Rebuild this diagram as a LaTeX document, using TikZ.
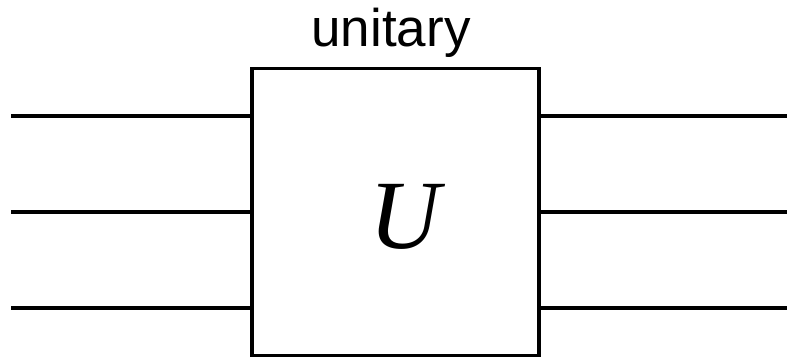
\documentclass[tikz,border=0pt]{standalone}
\usepackage{fontspec}
\setmainfont{Liberation Sans}
\newfontfamily\gatefont{Liberation Serif}
\usetikzlibrary{positioning, calc}

\begin{document}
\begin{tikzpicture}[x=1pt, y=-1pt, line width=3.6pt,
    gatebox/.style={draw, minimum width=287pt, minimum height=287pt, inner sep=0pt},
    wire/.style={line cap=butt}
]
    \useasboundingbox (0,0) rectangle (787,359);
    \node[gatebox] (gate) at (395.5,211.8) {};
    \node[font=\gatefont\itshape\fontsize{98}{98}\selectfont, inner sep=0pt] (sym) at (405,217) {U};
    \node[font=\fontsize{53}{53}\selectfont, anchor=base, inner sep=0pt] (lbl) at (391,46.7) {unitary};
    % input and output wires
    \foreach \i/\y in {1/116, 2/212, 3/308} {
        \coordinate (in\i) at (11,\y);
        \coordinate (out\i) at (787,\y);
        \draw[wire] (in\i) -- (gate.west |- in\i);
        \draw[wire] (gate.east |- out\i) -- (out\i);
    }
\end{tikzpicture}
\end{document}
